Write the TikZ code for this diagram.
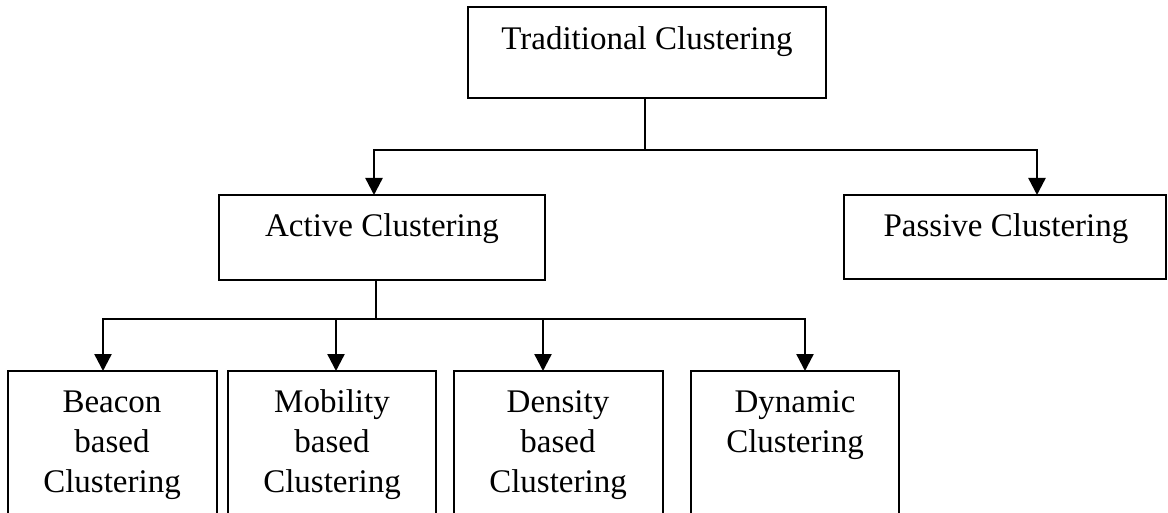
\documentclass[tikz,border=0pt]{standalone}
\usepackage{fontspec}
\setmainfont{Liberation Serif}
\usetikzlibrary{arrows.meta}
\begin{document}
\begin{tikzpicture}[x=1pt,y=-1pt,
  box/.style={draw=black,line width=2.4pt,fill=none,inner sep=0pt,outer sep=0pt,anchor=north west},
  leaf/.style={box,minimum width=209pt,minimum height=169pt},
  lbl/.style={font=\fontsize{33}{40}\selectfont,align=center,anchor=base,inner sep=0pt},
  link/.style={line width=2.4pt},
  arr/.style={line width=2.4pt,-{Triangle[width=17pt,length=17pt]}}]
\useasboundingbox (0,0) rectangle (1168,513);
\clip (0,0) rectangle (1168,513);
\fill[white] (0,0) rectangle (1168,513);

% boxes
\node[box,minimum width=358pt,minimum height=91pt] (tradbox) at (468,7) {};
\node[box,minimum width=326pt,minimum height=85pt] (activebox) at (219,195) {};
\node[box,minimum width=322pt,minimum height=84pt] (passivebox) at (844,195) {};
\node[leaf] (beaconbox) at (8,371) {};
\node[leaf,minimum width=208pt] (mobilitybox) at (228,371) {};
\node[leaf] (densitybox) at (454,371) {};
\node[leaf,minimum width=208pt] (dynamicbox) at (691,371) {};

% labels (anchored at the baseline of the last line)
\node[lbl] (trad)    at (647,50)  {Traditional Clustering};
\node[lbl] (active)  at (382,237) {Active Clustering};
\node[lbl] (passive) at (1006,237) {Passive Clustering};
\node[lbl] (beacon)  at (112,492) {Beacon\\based\\Clustering};
\node[lbl] (mobility) at (332,492) {Mobility\\based\\Clustering};
\node[lbl] (density) at (558,492) {Density\\based\\Clustering};
\node[lbl] (dynamic) at (795,452) {Dynamic\\Clustering};

% first level connectors
\draw[link] ([xshift=-2pt]tradbox.south) -- ++(0,52) coordinate (t1);
\draw[arr] (t1) -| ([xshift=-8pt]activebox.north);
\draw[arr] (t1) -| ([xshift=32pt]passivebox.north);

% second level connectors
\draw[link] ([xshift=-6pt]activebox.south) -- ++(0,39) coordinate (a1);
\draw[arr] (a1) -| ([xshift=-9.5pt]beaconbox.north);
\draw[arr] (a1) -| ([xshift=4pt]mobilitybox.north);
\draw[arr] (a1) -| ([xshift=-15.5pt]densitybox.north);
\draw[arr] (a1) -| ([xshift=10pt]dynamicbox.north);
\end{tikzpicture}
\end{document}
